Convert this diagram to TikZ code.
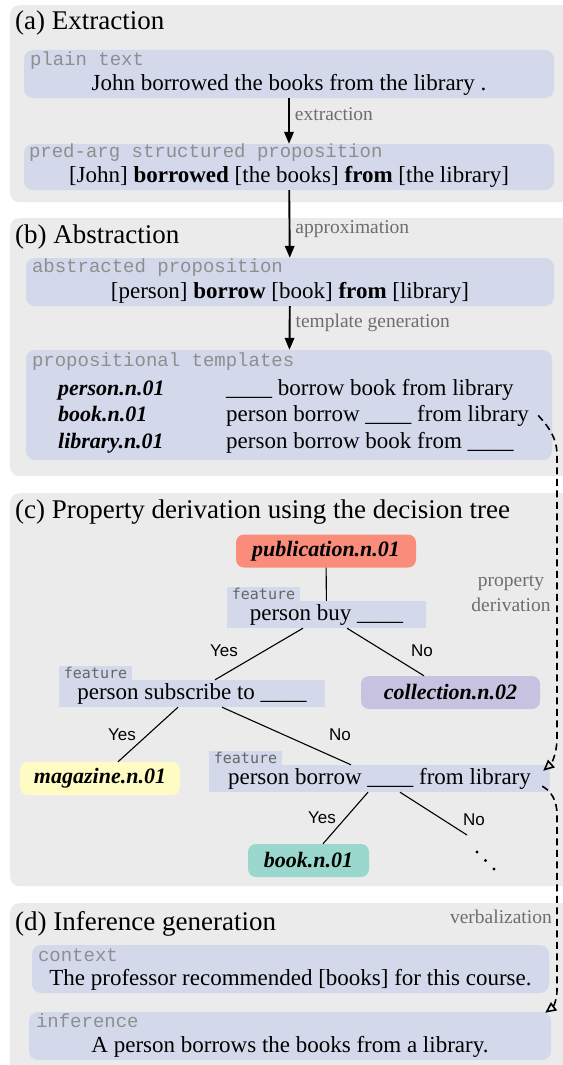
\documentclass[tikz,border=0pt]{standalone}
\usepackage{fontspec}
\setmainfont{Liberation Serif}
\setsansfont{Liberation Sans}
\setmonofont{Liberation Mono}
\newfontfamily\featfont{DejaVu Sans Mono}
\usetikzlibrary{arrows.meta,calc}

\definecolor{panelgray}{HTML}{EBEBEB}
\definecolor{boxblue}{HTML}{D3D9EB}
\definecolor{lblgray}{HTML}{8E8E8E}
\definecolor{featgray}{HTML}{666666}
\definecolor{edgegray}{HTML}{6E6E6E}
\definecolor{salmon}{HTML}{FA8C7C}
\definecolor{lavender}{HTML}{C7C2DF}
\definecolor{paleyellow}{HTML}{FEFBC3}
\definecolor{paleteal}{HTML}{9AD8CD}

\newcommand{\blankslot}{\_\_\_\_}

\begin{document}
\begin{tikzpicture}[x=1pt, y=-1pt,
    panel/.style={fill=panelgray, rounded corners=9pt, anchor=north west, inner sep=0pt},
    sectitle/.style={anchor=base west, inner sep=0pt, font=\fontsize{27}{30}\selectfont},
    txtbox/.style={fill=boxblue, rounded corners=9pt, inner sep=0pt},
    boxlbl/.style={anchor=base west, inner sep=0pt, text=lblgray, font=\ttfamily\fontsize{19}{22}\selectfont},
    boxtxt/.style={anchor=base, inner sep=0pt, font=\fontsize{23}{26}\selectfont},
    tmplkey/.style={anchor=base west, inner sep=0pt, font=\bfseries\itshape\fontsize{22}{26}\selectfont},
    tmplval/.style={anchor=base west, inner sep=0pt, font=\fontsize{23}{26}\selectfont},
    flow/.style={line width=1.9pt, -{Triangle[width=9.5pt,length=12pt]}},
    flowlbl/.style={right, inner xsep=5pt, text=edgegray, font=\fontsize{19.5}{22}\selectfont},
    sidelbl/.style={inner sep=0pt, text=edgegray, font=\fontsize{19.5}{25}\selectfont},
    leaf/.style={rounded corners=8pt, minimum height=33pt, inner xsep=0pt, font=\bfseries\itshape\fontsize{22}{26}\selectfont},
    feattab/.style={anchor=south west, fill=boxblue, minimum width=73pt, minimum height=14pt, inner sep=0pt,
        text=featgray, font=\featfont\fontsize{15}{15}\selectfont},
    feat/.style={fill=boxblue, minimum height=27pt, inner sep=0pt, font=\fontsize{23}{26}\selectfont,
        label={[feattab]north west:feature}},
    yn/.style={inner sep=0pt, font=\sffamily\fontsize{17}{18}\selectfont},
    branch/.style={line width=1.1pt},
    deriv/.style={line width=1.6pt, dash pattern=on 7pt off 4.5pt, -{Triangle[open,width=10pt,length=11pt]}}
  ]
  \useasboundingbox (0,0) rectangle (562,1065);

  % panels
  \node[panel, minimum width=570pt, minimum height=197pt] (pa) at (10,5) {};
  \node[panel, minimum width=570pt, minimum height=258pt] (pb) at (10,218) {};
  \node[panel, minimum width=570pt, minimum height=393pt] (pc) at (10,493) {};
  \node[panel, minimum width=570pt, minimum height=175pt] (pd) at (10,903) {};
  \node[sectitle] (ta) at (15,30) {(a) Extraction};
  \node[sectitle] (tb) at (15,243) {(b) Abstraction};
  \node[sectitle] (tc) at (15,518) {(c) Property derivation using the decision tree};
  \node[sectitle] (td) at (15,930) {(d) Inference generation};

  % (a)
  \node[txtbox, minimum width=530pt, minimum height=48pt] (plain) at (289,74) {};
  \node[boxlbl] (plainlbl) at ([xshift=6pt,yshift=-16pt]plain.north west) {plain text};
  \node[boxtxt] (plaintxt) at ([yshift=-41pt]plain.north) {John borrowed the books from the library .};

  \node[txtbox, minimum width=530pt, minimum height=46pt] (predarg) at (289,167) {};
  \node[boxlbl] (predarglbl) at ([xshift=5pt,yshift=-14pt]predarg.north west) {pred-arg structured proposition};
  \node[boxtxt] (predargtxt) at ([yshift=-39pt]predarg.north) {[John] \textbf{borrowed} [the books] \textbf{from} [the library]};

  % (b)
  \node[txtbox, minimum width=528pt, minimum height=48pt] (abstr) at (290,282) {};
  \node[boxlbl] (abstrlbl) at ([xshift=6pt,yshift=-15pt]abstr.north west) {abstracted proposition};
  \node[boxtxt] (abstrtxt) at ([yshift=-41pt]abstr.north) {[person] \textbf{borrow} [book] \textbf{from} [library]};

  \node[txtbox, minimum width=526pt, minimum height=110pt] (tmpl) at (289,405) {};
  \node[boxlbl] (tmpllbl) at ([xshift=6pt,yshift=-17pt]tmpl.north west) {propositional templates};
  \node[tmplkey] (ka) at (58,395) {person.n.01};
  \node[tmplval] (va) at (226,395) {\blankslot{} borrow book from library};
  \node[tmplkey] (kb) at (58,421) {book.n.01};
  \node[tmplval] (vb) at (226,421) {person borrow \blankslot{} from library};
  \node[tmplkey] (kc) at (58,448) {library.n.01};
  \node[tmplval] (vc) at (226,448) {person borrow book from \blankslot};

  \draw[flow] (plain) -- (predarg) node[flowlbl, pos=.35] (extrlbl) {extraction};
  \draw[flow] (predarg) -- (abstr) node[flowlbl, pos=.57] (approxlbl) {approximation};
  \draw[flow] (abstr) -- (tmpl) node[flowlbl, pos=.39] (genlbl) {template generation};

  % (c) decision tree
  \node[leaf, fill=salmon, minimum width=180pt] (pub) at (326,551) {publication.n.01};
  \node[feat, minimum width=199pt] (buy) at (326.5,614.5) {person buy \blankslot};
  \node[feat, minimum width=266pt] (subscr) at (192,693.5) {person subscribe to \blankslot};
  \node[leaf, fill=lavender, minimum width=179pt] (coll) at (450.5,692.5) {collection.n.02};
  \node[leaf, fill=paleyellow, minimum width=160pt] (mag) at (100,778.5) {magazine.n.01};
  \node[feat, minimum width=341pt] (borrow) at (379.5,778.5) {person borrow \blankslot{} from library};
  \node[leaf, fill=paleteal, minimum width=121pt] (book) at (308.5,860.5) {book.n.01};
  \coordinate (more) at (467,835);
  \foreach \k in {0,1,2}
    \fill ($(more)+(10+8.5*\k,17+8.5*\k)$) circle (1.7pt);

  \draw[branch] (pub) -- (buy);
  \draw[branch] ([xshift=-23.5pt]buy.south) -- ([xshift=23pt]subscr.north);
  \draw[branch] ([xshift=20.5pt]buy.south) -- ([xshift=-26.5pt]coll.north);
  \draw[branch] ([xshift=-14pt]subscr.south) -- ([xshift=18pt]mag.north);
  \draw[branch] ([xshift=30pt]subscr.south) -- ([xshift=-28.5pt]borrow.north);
  \draw[branch] ([xshift=-11.5pt]borrow.south) -- ([xshift=14.5pt]book.north);
  \draw[branch] ([xshift=20.5pt]borrow.south) -- (more);

  \node[yn] (yes1) at (224,651) {Yes};
  \node[yn] (no1) at (422,651) {No};
  \node[yn] (yes2) at (122,735) {Yes};
  \node[yn] (no2) at (340,735) {No};
  \node[yn] (yes3) at (322,818) {Yes};
  \node[yn] (no3) at (474,820) {No};

  % (d)
  \node[txtbox, minimum width=517pt, minimum height=48pt] (context) at (290.5,969) {};
  \node[boxlbl] (contextlbl) at ([xshift=6pt,yshift=-17pt]context.north west) {context};
  \node[boxtxt] (contexttxt) at ([yshift=-41pt]context.north) {The professor recommended [books] for this course.};

  \node[txtbox, minimum width=522pt, minimum height=48pt] (infer) at (290,1036) {};
  \node[boxlbl] (inferlbl) at ([xshift=7pt,yshift=-16pt]infer.north west) {inference};
  \node[boxtxt] (infertxt) at ([yshift=-41pt]infer.north) {A person borrows the books from a library.};

  % dashed derivation links
  \node[sidelbl, align=center] (propder) at (511,594) {property\\derivation};
  \node[sidelbl, anchor=east] (verb) at (552,917) {verbalization};
  \draw[deriv] ([xshift=9pt]vb.east) .. controls (546,424) and (557,436) .. (557,455)
    -- (557,738) .. controls (557,752) and (552,763) .. ([xshift=-7pt,yshift=-6pt]borrow.north east);
  \draw[deriv] ([xshift=-8pt,yshift=6pt]borrow.south east) .. controls (551,791) and (557,800) .. (557,815)
    -- (557,990) .. controls (557,1000) and (553,1007) .. ([xshift=-6pt,yshift=-1pt]infer.north east);
\end{tikzpicture}
\end{document}
